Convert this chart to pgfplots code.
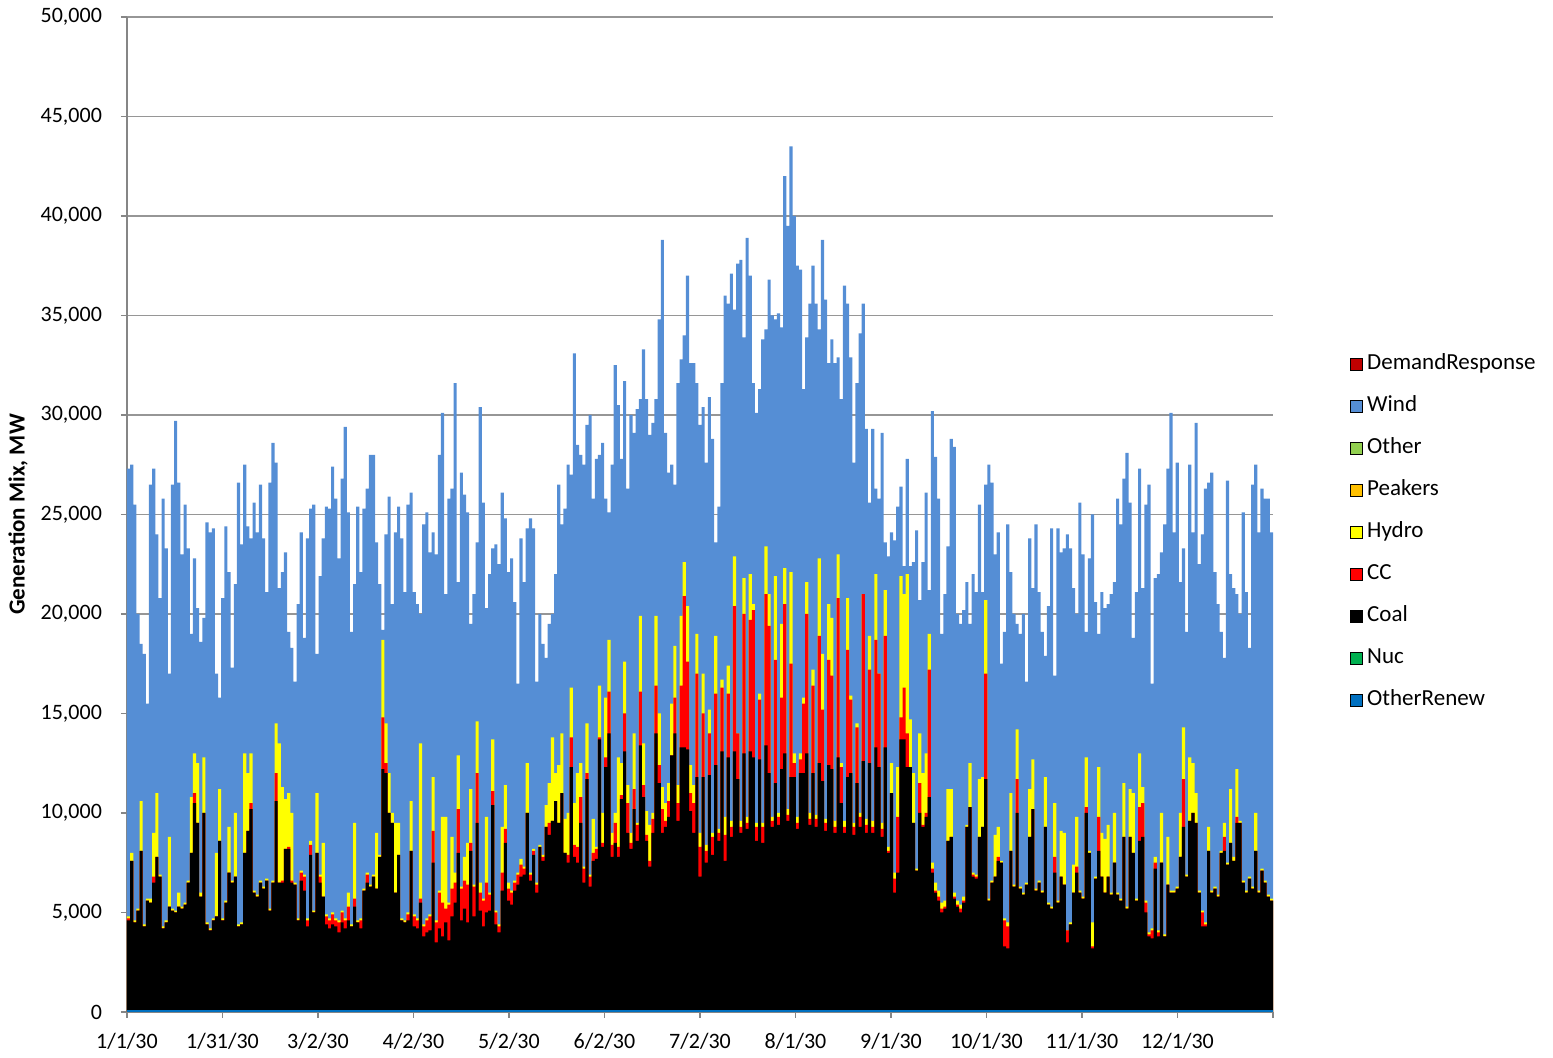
\documentclass[border=0pt]{standalone}
\usepackage{pgfplots}
\pgfplotsset{compat=1.18}
\usepackage{pgfplotstable}
\usepackage{fontspec}
\setmainfont{Carlito}
\definecolor{windblue}{RGB}{85,142,213}
\definecolor{drred}{RGB}{192,0,0}
\definecolor{othergreen}{RGB}{146,208,80}
\definecolor{peakorange}{RGB}{255,192,0}
\definecolor{hydroyellow}{RGB}{255,255,0}
\definecolor{ccred}{RGB}{255,0,0}
\definecolor{nucgreen}{RGB}{0,176,80}
\definecolor{orblue}{RGB}{0,112,192}
\definecolor{axisgray}{RGB}{134,134,134}
\definecolor{gridgray}{RGB}{150,150,150}
\pgfplotstableread{
d t h c k
0 27.3 4.8 4.7 4.6
1 27.5 8.0 7.6 7.6
2 25.5 4.6 4.5 4.5
3 20.0 5.2 5.1 5.1
4 18.5 10.6 8.1 8.1
5 18.0 4.4 4.3 4.3
6 15.5 5.7 5.6 5.6
7 26.5 5.7 5.5 5.5
8 27.3 9.0 6.8 6.5
9 24.0 11.0 7.8 7.8
10 20.8 6.9 6.8 6.8
11 25.8 4.3 4.2 4.2
12 23.3 4.6 4.5 4.5
13 17.0 8.8 5.3 5.3
14 26.5 5.2 5.1 5.1
15 29.7 5.1 5.0 5.0
16 26.6 6.0 5.3 5.3
17 23.0 5.3 5.2 5.2
18 25.5 5.5 5.4 5.4
19 23.3 6.6 6.5 6.5
20 19.0 10.8 8.0 8.0
21 22.8 13.0 11.0 10.5
22 20.3 12.5 9.5 9.5
23 18.6 6.0 5.8 5.8
24 19.8 12.8 10.0 10.0
25 24.6 4.5 4.4 4.4
26 24.1 4.2 4.1 4.1
27 24.3 4.7 4.6 4.6
28 17.0 8.0 4.8 4.8
29 15.8 11.2 8.6 8.6
30 20.8 4.7 4.6 4.6
31 24.4 5.6 5.5 5.5
32 22.1 9.3 7.0 7.0
33 17.3 6.6 6.5 6.5
34 21.5 10.0 6.8 6.8
35 26.6 4.4 4.3 4.3
36 23.5 4.5 4.4 4.4
37 27.5 13.0 8.0 8.0
38 24.4 12.0 9.1 9.1
39 23.8 13.0 10.5 10.2
40 25.6 6.1 6.0 6.0
41 24.1 5.9 5.8 5.8
42 26.5 6.6 6.5 6.5
43 23.8 6.3 6.2 6.2
44 21.1 6.7 6.6 6.6
45 26.6 5.2 5.1 5.1
46 28.6 6.6 6.5 6.5
47 27.6 14.5 12.0 10.6
48 21.3 13.5 6.5 6.5
49 22.1 11.3 6.6 6.5
50 23.1 10.7 8.2 8.2
51 19.1 11.0 8.3 8.2
52 18.3 10.0 6.6 6.5
53 16.6 6.5 6.4 6.4
54 20.5 4.7 4.6 4.6
55 24.1 7.1 7.0 6.6
56 18.8 6.9 6.8 6.1
57 23.8 4.7 4.6 4.3
58 25.3 8.6 8.4 7.9
59 25.5 5.1 5.0 5.0
60 18.0 11.0 8.0 8.0
61 21.9 6.9 6.8 6.5
62 23.8 8.5 5.8 5.8
63 25.4 4.9 4.8 4.4
64 25.3 4.7 4.6 4.2
65 27.4 5.0 4.9 4.4
66 25.8 4.7 4.6 4.3
67 22.8 4.6 4.5 4.0
68 26.8 5.1 5.0 4.5
69 29.4 4.7 4.6 4.2
70 25.1 6.0 5.3 4.6
71 19.1 4.4 4.3 4.3
72 21.5 9.5 5.7 5.3
73 25.4 4.6 4.5 4.5
74 22.1 4.7 4.6 4.2
75 25.3 6.2 6.1 6.1
76 26.3 7.0 6.9 6.5
77 28.0 6.4 6.3 6.3
78 28.0 6.9 6.8 6.8
79 23.6 9.0 6.2 6.2
80 21.5 7.9 7.8 7.8
81 19.2 18.7 14.8 12.2
82 24.0 14.5 12.5 12.0
83 25.9 12.0 10.0 10.0
84 20.5 10.0 9.5 9.5
85 24.1 9.5 6.0 6.0
86 25.4 9.5 7.9 7.9
87 23.8 4.7 4.6 4.6
88 21.1 4.6 4.5 4.5
89 25.5 5.0 4.9 4.6
90 26.1 10.6 8.1 8.1
91 21.1 4.9 4.8 4.3
92 20.5 4.7 4.6 4.2
93 20.0 13.5 5.7 5.5
94 24.5 4.4 4.3 3.8
95 25.1 4.7 4.6 4.0
96 23.1 4.9 4.8 4.1
97 24.1 11.8 9.1 7.5
98 23.0 4.6 4.5 3.5
99 28.0 6.1 6.0 4.2
100 30.1 9.8 5.5 3.8
101 21.0 9.8 5.2 4.5
102 25.8 5.5 5.4 3.6
103 26.3 8.8 6.2 4.8
104 31.6 7.0 6.5 5.5
105 21.6 12.9 10.2 8.0
106 27.1 6.3 6.2 4.6
107 26.0 7.8 6.6 5.2
108 25.1 8.5 6.4 4.5
109 19.5 11.2 8.5 8.1
110 21.0 6.4 6.3 4.8
111 23.6 14.6 12.0 9.5
112 30.4 6.5 6.0 5.1
113 25.6 5.7 5.6 4.3
114 20.3 9.8 6.5 5.0
115 22.0 6.0 5.9 5.1
116 23.3 13.7 11.1 10.4
117 23.5 5.1 5.0 4.4
118 22.5 4.4 4.3 4.0
119 26.1 9.3 7.0 6.1
120 24.8 11.4 9.2 8.5
121 22.1 6.5 6.2 5.6
122 22.8 6.1 6.0 5.4
123 20.6 6.6 6.5 6.1
124 16.5 7.0 6.9 6.4
125 23.8 7.7 7.4 6.8
126 21.6 7.3 7.2 6.9
127 24.3 12.5 10.0 10.0
128 24.8 7.0 6.9 6.6
129 24.3 8.2 8.1 7.9
130 16.6 6.5 6.4 6.0
131 20.0 8.4 8.3 8.3
132 18.5 7.9 7.8 7.6
133 17.8 10.4 9.3 9.3
134 19.5 11.5 9.5 8.9
135 20.0 13.8 9.6 9.6
136 22.0 12.0 10.6 10.6
137 26.5 12.4 9.5 9.5
138 24.5 14.0 11.0 11.0
139 25.3 9.7 8.0 8.0
140 27.5 10.0 7.9 7.5
141 27.0 16.3 13.8 12.3
142 33.1 10.5 8.4 7.8
143 28.5 12.0 8.3 7.5
144 28.0 12.5 10.8 9.5
145 27.5 7.3 7.2 6.5
146 29.5 14.5 12.0 11.7
147 30.0 6.9 6.8 6.3
148 25.8 9.7 8.0 7.6
149 27.8 8.3 8.2 7.7
150 28.0 16.4 13.8 13.7
151 28.6 10.0 8.5 8.3
152 25.8 15.8 12.8 12.3
153 25.1 18.7 16.1 14.0
154 27.5 9.0 8.4 7.8
155 32.5 10.0 9.5 8.5
156 30.5 12.8 8.3 7.8
157 27.8 12.5 10.9 10.7
158 31.7 17.6 15.0 13.1
159 26.3 11.4 10.5 9.0
160 30.0 9.0 8.5 8.2
161 29.1 14.0 11.2 10.2
162 30.3 9.5 9.4 8.6
163 30.8 19.9 16.1 13.4
164 33.3 13.5 11.4 10.8
165 30.8 10.1 8.9 8.6
166 29.0 9.4 7.6 7.3
167 29.6 10.0 9.7 9.0
168 30.8 19.9 16.4 14.0
169 34.8 15.0 12.4 11.5
170 38.8 11.3 10.2 9.0
171 29.1 10.5 9.6 9.3
172 27.1 11.5 10.6 9.8
173 27.5 15.5 12.9 12.9
174 26.5 18.4 15.8 14.0
175 31.6 11.4 10.5 9.6
176 32.8 19.9 16.4 13.3
177 34.0 22.6 20.9 13.3
178 37.0 20.4 17.6 13.2
179 32.6 12.4 11.0 10.1
180 32.6 11.4 10.5 9.0
181 31.6 19.0 17.0 11.8
182 29.5 9.0 8.3 6.8
183 30.4 17.0 15.0 11.8
184 27.6 8.4 8.1 7.5
185 30.9 15.2 14.0 11.9
186 28.8 9.0 8.8 7.9
187 23.6 18.9 16.0 12.4
188 25.4 9.2 9.0 8.6
189 31.6 16.7 16.3 13.1
190 36.0 9.8 8.9 7.6
191 35.6 17.4 16.0 12.8
192 37.1 9.6 9.3 8.8
193 35.3 22.9 20.4 13.1
194 37.6 14.0 14.0 11.7
195 37.8 9.6 9.3 9.0
196 33.9 21.8 20.0 13.0
197 38.9 9.8 9.5 9.2
198 37.0 22.0 19.7 13.1
199 31.6 20.5 20.2 12.8
200 30.1 9.5 9.3 8.6
201 31.3 16.0 15.7 12.7
202 33.8 9.5 9.3 8.5
203 34.3 23.4 21.0 13.4
204 36.8 21.0 19.4 12.0
205 35.0 9.8 9.6 9.3
206 34.8 21.9 17.7 11.5
207 35.1 10.0 9.8 9.4
208 34.4 19.5 15.8 12.2
209 42.0 22.3 20.5 13.0
210 39.5 10.2 9.9 9.6
211 43.5 22.1 17.5 11.8
212 40.0 13.0 12.5 11.8
213 37.5 9.8 9.5 9.2
214 37.3 13.0 12.7 12.0
215 31.3 15.8 15.5 12.0
216 33.9 21.6 20.0 13.0
217 35.6 10.0 9.7 9.4
218 37.5 17.2 16.4 12.0
219 35.6 9.9 9.7 9.3
220 34.3 22.8 18.9 12.5
221 38.8 18.0 15.2 11.6
222 35.8 9.7 9.5 9.1
223 32.6 20.5 17.7 12.4
224 33.8 19.8 16.9 12.2
225 32.6 9.6 9.3 9.0
226 32.9 23.0 20.8 12.8
227 30.8 12.5 12.3 10.5
228 36.5 9.6 9.3 9.0
229 35.6 20.8 18.2 11.8
230 32.9 15.9 15.7 12.0
231 27.6 9.5 9.3 8.9
232 31.6 14.5 14.3 11.5
233 34.1 10.0 9.8 9.3
234 35.6 21.0 21.0 12.6
235 29.3 9.7 9.4 9.0
236 25.6 18.9 17.2 12.5
237 29.3 9.6 9.3 9.0
238 26.3 22.0 18.7 13.3
239 25.8 17.0 17.0 12.3
240 29.1 9.5 9.2 8.8
241 23.6 21.2 18.9 13.3
242 22.9 8.3 8.1 8.0
243 24.1 12.5 11.0 11.0
244 23.7 7.0 6.7 6.0
245 25.4 12.3 9.8 7.0
246 26.4 21.9 14.8 13.7
247 22.4 21.0 16.3 13.7
248 27.8 22.0 14.0 12.3
249 22.4 14.7 12.3 12.3
250 22.6 12.0 9.5 9.5
251 24.2 7.2 7.1 7.1
252 20.7 14.0 11.5 10.0
253 22.6 12.0 9.4 9.3
254 26.1 13.0 10.0 9.8
255 21.2 19.0 17.2 10.8
256 30.2 7.5 7.2 7.0
257 27.9 6.5 6.1 6.0
258 25.8 6.1 5.8 5.6
259 19.0 5.5 5.2 5.0
260 21.0 5.6 5.3 5.2
261 23.4 11.2 8.6 8.6
262 28.8 11.2 8.8 8.8
263 28.4 6.0 5.8 5.7
264 20.0 5.6 5.4 5.3
265 19.5 5.4 5.2 5.0
266 20.2 5.8 5.6 5.5
267 21.6 9.4 9.3 9.3
268 19.5 12.5 10.3 10.3
269 22.0 7.0 6.9 6.8
270 21.1 6.9 6.8 6.7
271 25.5 11.7 8.8 8.8
272 21.1 11.8 9.3 9.3
273 26.5 20.7 17.0 11.7
274 27.5 5.7 5.6 5.6
275 26.6 6.6 6.5 6.5
276 23.0 8.9 6.8 6.8
277 24.1 9.3 7.8 7.6
278 17.5 7.6 7.5 7.5
279 19.1 4.7 4.6 3.3
280 24.5 4.5 4.3 3.2
281 22.1 11.0 8.1 8.1
282 20.0 6.4 6.3 6.3
283 19.5 14.2 11.7 10.0
284 19.0 6.3 6.2 6.2
285 20.0 6.0 5.9 5.9
286 16.6 6.5 6.4 6.4
287 23.8 11.2 8.8 8.8
288 21.3 12.7 10.2 10.2
289 24.5 6.2 6.1 6.1
290 21.1 6.6 6.5 6.5
291 19.1 6.1 6.0 6.0
292 17.9 11.8 9.3 9.3
293 20.4 5.5 5.4 5.4
294 24.3 5.3 5.2 5.2
295 16.9 10.5 7.8 7.0
296 24.3 5.6 5.5 5.5
297 23.1 9.1 6.8 6.8
298 23.3 9.0 6.4 6.4
299 24.0 4.1 4.1 3.5
300 23.3 4.5 4.4 4.4
301 21.3 7.4 6.0 6.0
302 20.0 9.8 7.3 7.0
303 25.6 6.1 6.0 6.0
304 23.0 5.8 5.7 5.7
305 19.1 12.8 10.3 10.0
306 22.8 8.1 8.0 8.0
307 25.0 4.5 3.3 3.2
308 20.6 6.8 6.7 6.7
309 19.0 12.3 9.8 8.1
310 21.1 9.0 6.8 6.8
311 20.3 8.7 6.0 6.0
312 20.5 9.4 6.8 6.8
313 21.0 6.0 5.9 5.9
314 21.6 10.0 7.5 7.5
315 25.8 6.0 5.9 5.9
316 24.5 5.7 5.6 5.6
317 26.8 11.5 8.8 8.8
318 28.1 5.3 5.2 5.2
319 25.6 11.2 8.8 8.8
320 18.8 11.0 8.0 8.0
321 21.1 5.7 5.6 5.6
322 27.3 13.0 10.3 8.6
323 21.3 11.3 10.5 8.8
324 25.5 5.6 5.5 5.0
325 26.5 4.0 3.9 3.8
326 16.5 4.2 4.1 3.7
327 21.8 7.8 7.5 7.2
328 22.0 4.1 4.0 3.8
329 23.1 10.0 7.5 7.5
330 24.5 3.9 3.8 3.8
331 27.3 8.8 6.4 6.4
332 30.1 6.1 6.0 6.0
333 24.1 6.1 6.0 6.0
334 27.6 6.3 6.2 6.2
335 21.6 10.0 7.8 7.8
336 23.3 14.3 11.7 9.3
337 19.1 6.9 6.8 6.8
338 27.5 12.8 9.6 9.6
339 24.1 12.5 10.0 10.0
340 29.6 11.0 9.5 9.5
341 22.5 6.1 6.0 6.0
342 24.0 5.1 5.0 4.3
343 26.3 4.5 4.4 4.3
344 26.6 9.3 8.1 8.1
345 27.1 6.1 6.0 6.0
346 22.1 6.3 6.2 6.2
347 20.5 5.9 5.8 5.8
348 19.1 8.1 8.0 8.0
349 17.8 9.5 8.8 8.1
350 26.7 7.5 7.4 7.4
351 22.0 11.2 8.5 8.5
352 21.3 7.8 7.6 7.6
353 21.0 12.2 9.8 9.5
354 20.0 9.6 9.5 9.5
355 25.1 6.6 6.5 6.5
356 21.1 6.1 6.0 6.0
357 18.3 6.8 6.7 6.7
358 26.5 6.3 6.2 6.2
359 27.5 10.0 8.1 8.1
360 24.1 6.1 6.0 6.0
361 26.3 7.2 7.1 7.1
362 25.8 6.6 6.5 6.5
363 25.8 5.9 5.8 5.8
364 24.1 5.7 5.6 5.6
365 24.1 5.7 5.6 5.6
}\gen

\begin{document}
\begin{tikzpicture}
\useasboundingbox (-63.5pt,-23pt) rectangle (713pt,506pt);
\begin{axis}[
  scale only axis, width=573pt, height=497.5pt,
  xmin=0, xmax=365, ymin=0, ymax=50,
  axis lines*=left,
  axis line style={-, draw=axisgray, line width=0.6pt},
  xtick={0,30.4167,60.8333,91.25,121.6667,152.0833,182.5,212.9167,243.3333,273.75,304.1667,334.5833,365},
  xticklabels={1/1/30,1/31/30,3/2/30,4/2/30,5/2/30,6/2/30,7/2/30,8/1/30,9/1/30,10/1/30,11/1/30,12/1/30,{}},
  ytick={0,5,10,15,20,25,30,35,40,45,50},
  yticklabels={0,{5,000},{10,000},{15,000},{20,000},{25,000},{30,000},{35,000},{40,000},{45,000},{50,000}},
  tick align=outside, major tick length=3pt,
  tick style={draw=axisgray, line width=0.6pt},
  ymajorgrids, grid style={draw=gridgray, line width=0.6pt},
  ticklabel style={font=\fontsize{11}{13}\selectfont},
  xticklabel style={yshift=-4pt},
  yticklabel style={xshift=-6pt},
  ylabel={\textbf{Generation Mix, MW}},
  ylabel style={at={(axis description cs:-0.0951,0.5)}, anchor=center, font=\fontsize{11.5}{13}\selectfont},
  legend image code/.code={\fill[#1] (0pt,-3pt) rectangle (6pt,3pt);},
  legend cell align=left,
  legend style={at={(1.0672,0.6663)}, anchor=north west, draw=none, fill=none, inner sep=0pt,
    row sep=10pt, font=\fontsize{11.5}{13}\selectfont,
    nodes={text height=8pt, text depth=3pt}, /tikz/every even column/.append style={column sep=0pt}},
  legend style={row sep=6pt},
]
\addplot[fill=windblue, draw=none, const plot mark left, forget plot] table[x=d,y=t]{\gen} \closedcycle;
\addplot[fill=hydroyellow, draw=none, const plot mark left, forget plot] table[x=d,y=h]{\gen} \closedcycle;
\addplot[fill=ccred, draw=none, const plot mark left, forget plot] table[x=d,y=c]{\gen} \closedcycle;
\addplot[fill=black, draw=none, const plot mark left, forget plot] table[x=d,y=k]{\gen} \closedcycle;
\addplot[fill=orblue, draw=none, forget plot] coordinates {(0,0.12) (365,0.12)} \closedcycle;
\addlegendimage{fill=drred}\addlegendentry{DemandResponse}
\addlegendimage{fill=windblue}\addlegendentry{Wind}
\addlegendimage{fill=othergreen}\addlegendentry{Other}
\addlegendimage{fill=peakorange}\addlegendentry{Peakers}
\addlegendimage{fill=hydroyellow}\addlegendentry{Hydro}
\addlegendimage{fill=ccred}\addlegendentry{CC}
\addlegendimage{fill=black}\addlegendentry{Coal}
\addlegendimage{fill=nucgreen}\addlegendentry{Nuc}
\addlegendimage{fill=orblue}\addlegendentry{OtherRenew}
\end{axis}
\end{tikzpicture}
\end{document}
